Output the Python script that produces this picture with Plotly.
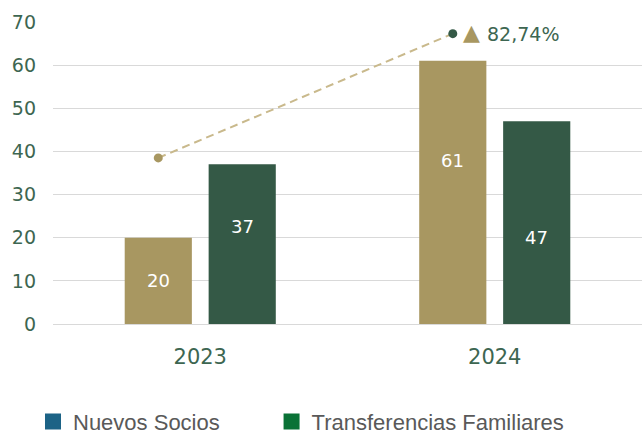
import plotly.graph_objects as go

years = ["2023", "2024"]
nuevos = [20, 61]
transferencias = [37, 47]
trend = [38.5, 67.3]
growth_label = "82,74%"
legend_names = ["Nuevos Socios", "Transferencias Familiares"]
yticks = [0, 10, 20, 30, 40, 50, 60, 70]

GOLD = "#a89761"
GREEN = "#345946"
TXT = "#3d6651"
BARGAP = 0.43
GROUPGAP = 0.2

idx = list(range(len(years)))
shift = (1 - BARGAP) / 4  # centre offset of first bar in group

fig = go.Figure()
fig.add_trace(go.Bar(x=idx, y=nuevos, marker=dict(color=GOLD, line=dict(width=0)), showlegend=False, hoverinfo="skip"))
fig.add_trace(go.Bar(x=idx, y=transferencias, marker=dict(color=GREEN, line=dict(width=0)), showlegend=False, hoverinfo="skip"))

fig.add_trace(go.Scatter(
    x=[i - shift for i in idx], y=trend, mode="lines+markers",
    line=dict(color="#c9b98c", width=2, dash="8px,5px"),
    marker=dict(size=9, color=[GOLD, GREEN]), showlegend=False, hoverinfo="skip"))

fig.add_trace(go.Scatter(x=[None], y=[None], mode="markers", name=legend_names[0], legend="legend",
                         marker=dict(symbol="square", size=16, color="#1c6386")))
fig.add_trace(go.Scatter(x=[None], y=[None], mode="markers", name=legend_names[1], legend="legend2",
                         marker=dict(symbol="square", size=16, color="#0a7236")))

# bar value labels
label_pos = [(0, -1, 10.0), (0, 1, 22.5), (1, -1, 37.8), (1, 1, 20.0)]
vals = {(-1): nuevos, 1: transferencias}
anns = []
for i, side, ypos in label_pos:
    v = vals[side][i]
    anns.append(dict(x=i + side * shift, y=ypos, text=str(v), showarrow=False,
                     font=dict(family="DejaVu Sans", size=18, color="white")))
anns.append(dict(x=idx[-1] - shift, y=trend[-1], text="▲", showarrow=False, xanchor="center",
                 xshift=19, yshift=1, font=dict(family="DejaVu Sans", size=22, color=GOLD)))
anns.append(dict(x=idx[-1] - shift, y=trend[-1], text=growth_label, showarrow=False, xanchor="left",
                 xshift=32, yshift=0, font=dict(family="DejaVu Sans", size=19, color=TXT)))

leg_common = dict(orientation="h", xref="container", yref="container", y=0.026,
                  xanchor="left", yanchor="middle",
                  font=dict(family="Liberation Sans", size=22, color="#595959"),
                  bgcolor="rgba(0,0,0,0)")

fig.update_layout(
    width=642, height=433,
    margin=dict(l=53, r=0, t=22, b=109),
    paper_bgcolor="white", plot_bgcolor="white",
    barmode="group", bargap=BARGAP, bargroupgap=GROUPGAP,
    annotations=anns,
    showlegend=True,
    legend=dict(x=0.0514, **leg_common),
    legend2=dict(x=0.423, **leg_common),
    xaxis=dict(range=[-0.5, 1.5], tickmode="array", tickvals=idx, ticktext=years,
               showgrid=False, zeroline=False, showline=False, ticks="",
               tickfont=dict(family="DejaVu Sans", size=21, color=TXT), ticklabelstandoff=18),
    yaxis=dict(range=[0, 70], tickmode="array", tickvals=yticks, showgrid=True,
               gridcolor="#d9d9d9", gridwidth=1, zeroline=True, zerolinecolor="#d9d9d9",
               zerolinewidth=1, showline=False, ticks="",
               tickfont=dict(family="DejaVu Sans", size=19, color=TXT), ticklabelstandoff=16),
)

fig.write_html("out.html", config={"displayModeBar": False},
               post_script="document.body.style.margin='0';document.body.style.overflow='hidden';")
